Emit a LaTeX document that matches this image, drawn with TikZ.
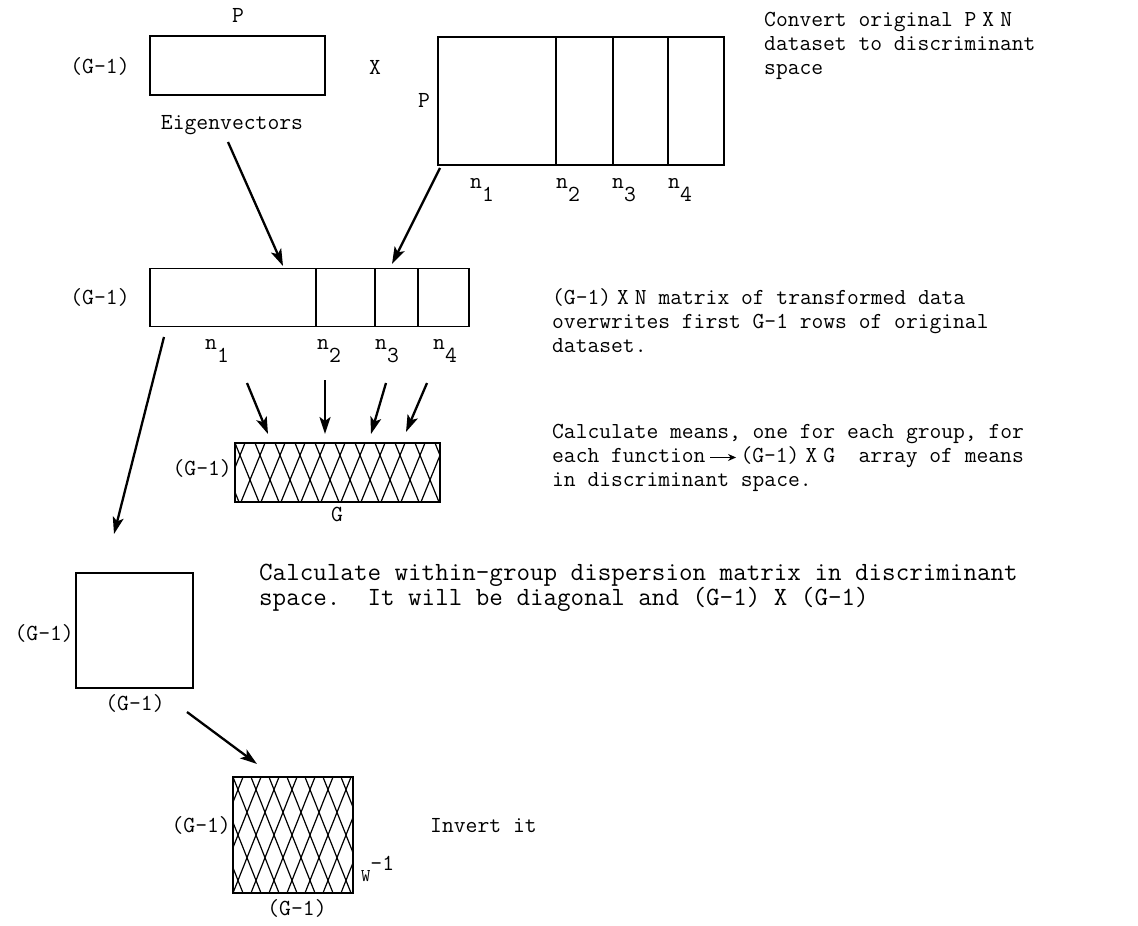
\documentclass[tikz,border=0pt]{standalone}
\usepackage{fontspec}
\usetikzlibrary{arrows.meta}
\tikzset{
  box/.style={draw, line width=1.9pt, inner sep=0pt},
  divider/.style={line width=1.9pt},
  hatchline/.style={line width=1.2pt},
  arr/.style={line width=2.3pt, -{Stealth[length=17pt,width=11pt,inset=4pt]}},
  lbl/.style={font=\ttfamily\fontsize{23}{24}\selectfont, inner sep=0pt},
  txt/.style={font=\ttfamily\fontsize{22.9}{24}\selectfont, inner sep=0pt, anchor=north west, align=left},
  bigtxt/.style={font=\ttfamily\fontsize{26.3}{25}\selectfont, inner sep=0pt, anchor=north west, align=left}
}
\newcommand{\sub}[1]{n\raisebox{-13pt}{#1}}
\newcommand{\longarr}{\tikz[baseline=-5pt]\draw[line width=1.4pt,-{Stealth[length=8pt,width=7pt]}] (0pt,0pt) -- (26pt,0pt);}
\begin{document}
\begin{tikzpicture}[x=1pt,y=-1pt]
\useasboundingbox (0,0) rectangle (1138,926);

% ---------- top row ----------
\node[box, minimum width=175pt, minimum height=59pt] (eig) at (237.5,65.5) {};
\node[lbl] (eigP) at (238,15) {P};
\node[lbl] (eigG) at (100,66) {(G–1)};
\node[lbl] (times) at (375,67) {X};
\node[lbl] (eiglab) at (232,125) {Eigenvectors};

\node[box, minimum width=286pt, minimum height=128pt] (data) at (581,101) {};
\draw[divider] (556,37) -- (556,165);
\draw[divider] (613,37) -- (613,165);
\draw[divider] (668,37) -- (668,165);
\node[lbl] (dataP) at (424,100) {P};
\node[lbl, anchor=base west] (dn1) at (470,188) {\sub{1}};
\node[lbl, anchor=base west] (dn2) at (556,188) {\sub{2}};
\node[lbl, anchor=base west] (dn3) at (612,188) {\sub{3}};
\node[lbl, anchor=base west] (dn4) at (668,188) {\sub{4}};

\node[txt] (t1) at (764,12) {Convert original P\hspace{6pt}X\hspace{6pt}N\\dataset to discriminant\\space};

% ---------- transformed data ----------
\node[box, minimum width=319pt, minimum height=58pt] (mid) at (309.5,297.5) {};
\draw[divider] (316,268) -- (316,327);
\draw[divider] (375,268) -- (375,327);
\draw[divider] (418,268) -- (418,327);
\node[lbl] (midG) at (100,297) {(G–1)};
\node[lbl, anchor=base west] (mn1) at (205,349) {\sub{1}};
\node[lbl, anchor=base west] (mn2) at (317,349) {\sub{2}};
\node[lbl, anchor=base west] (mn3) at (375,349) {\sub{3}};
\node[lbl, anchor=base west] (mn4) at (433,349) {\sub{4}};

\node[txt] (t2) at (552,288) {(G-1)\hspace{6pt}X\hspace{6pt}N matrix of transformed data\\overwrites first G-1 rows of original\\dataset.};

\coordinate (a1s) at (228,142);
\coordinate (a1e) at (283,266);
\coordinate (a2s) at (440,168);
\coordinate (a2e) at (392,264);
\draw[arr] (a1s) -- (a1e);
\draw[arr] (a2s) -- (a2e);

% ---------- means ----------
\begin{scope}
  \clip (235,443) rectangle (440,502);
  \foreach \i in {-3,...,13} {
    \draw[hatchline] (235+\i*20,443) -- ++(24,59);
    \draw[hatchline] (245+\i*20,443) -- ++(-24,59);
  }
\end{scope}
\node[box, minimum width=205pt, minimum height=59pt] (gbox) at (337.5,472.5) {};
\node[lbl, anchor=east] (gG) at (232,468) {(G–1)};
\node[lbl] (gGG) at (337,514) {G};

\coordinate (b1s) at (247,383);
\coordinate (b1e) at (268,434);
\coordinate (b2s) at (325,380);
\coordinate (b2e) at (325,434);
\coordinate (b3s) at (386,383);
\coordinate (b3e) at (371,434);
\coordinate (b4s) at (427,383);
\coordinate (b4e) at (406,432);
\draw[arr] (b1s) -- (b1e);
\draw[arr] (b2s) -- (b2e);
\draw[arr] (b3s) -- (b3e);
\draw[arr] (b4s) -- (b4e);

\node[txt] (t3) at (552,424) {Calculate means, one for each group, for\\each function\,\longarr\,(G-1)\hspace{6pt}X\hspace{6pt}G\ \ array of means\\in discriminant space.};

% ---------- within-group ----------
\coordinate (c1s) at (164,337);
\coordinate (c1e) at (114,534);
\draw[arr] (c1s) -- (c1e);

\node[box, minimum width=117pt, minimum height=115pt] (wbox) at (134.5,630.5) {};
\node[lbl, anchor=east] (wG) at (74,633) {(G–1)};
\node[lbl] (wGG) at (135,703) {(G–1)};

\node[bigtxt] (t4) at (259,564) {Calculate within-group dispersion matrix in discriminant\\space.\ \ It will be diagonal and (G-1) X (G-1)};

% ---------- inverse ----------
\coordinate (d1s) at (187,712);
\coordinate (d1e) at (257,764);
\draw[arr] (d1s) -- (d1e);

\begin{scope}
  \clip (233,777) rectangle (353,893);
  \foreach \i in {-4,...,9} {
    \draw[hatchline] (233+\i*18,777) -- ++(46,116);
    \draw[hatchline] (243+\i*18,777) -- ++(-46,116);
  }
\end{scope}
\node[box, minimum width=120pt, minimum height=116pt] (ibox) at (293,835) {};
\node[lbl, anchor=east] (iG) at (231,825) {(G–1)};
\node[lbl] (iGG) at (297,908) {(G–1)};
\node[lbl, anchor=base west] (winv) at (361,881) {{\fontsize{18}{18}\selectfont W}\raisebox{11pt}{-1}};
\node[lbl, anchor=west] (t5) at (430,826) {Invert it};

\end{tikzpicture}
\end{document}
